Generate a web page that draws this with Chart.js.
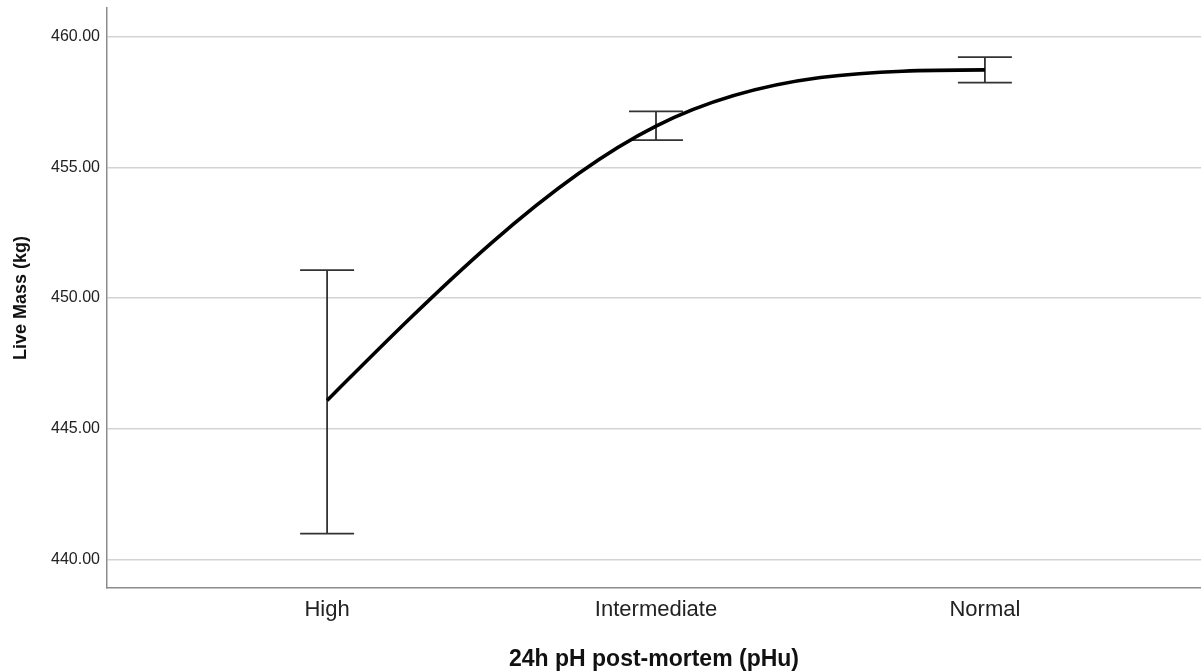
<!DOCTYPE html>
<html>
<head>
<meta charset="utf-8">
<title>Live Mass by 24h pH post-mortem</title>
<script src="https://cdn.jsdelivr.net/npm/chart.js@4.4.1/dist/chart.umd.min.js"></script>
<style>
  html, body { margin: 0; padding: 0; background: #ffffff; }
  #wrap { width: 1201px; height: 671px; position: relative; }
</style>
</head>
<body>
<div id="wrap"><canvas id="chart"></canvas></div>
<script>
// pHu groups and the Live Mass summary for each group (kg)
const categories = ['High', 'Intermediate', 'Normal'];
const meanMass   = [446.08, 456.58, 458.73];
const lowerMass  = [440.98, 456.04, 458.24];
const upperMass  = [451.07, 457.14, 459.22];
const yTicks     = [440, 445, 450, 455, 460];

const FONT = "'Liberation Sans', Arial, Helvetica, sans-serif";

// Natural cubic spline through the line's points (zero curvature at both ends)
const naturalSpline = {
  id: 'naturalSpline',
  beforeDatasetDraw(chart, args) {
    const meta = args.meta;
    const line = meta.dataset;
    if (!line || meta.type !== 'line') return;
    line.updateControlPoints(chart.chartArea, 'x');
    const pts = line.points;
    const n = pts.length;
    if (n < 3) return;
    const h = [], d = [];
    for (let i = 0; i < n - 1; i++) {
      h[i] = pts[i + 1].x - pts[i].x;
      d[i] = (pts[i + 1].y - pts[i].y) / h[i];
    }
    // tridiagonal system for second derivatives M[1..n-2]
    const M = new Array(n).fill(0);
    const a = [], b = [], c = [], r = [];
    for (let i = 1; i < n - 1; i++) {
      a.push(h[i - 1]);
      b.push(2 * (h[i - 1] + h[i]));
      c.push(h[i]);
      r.push(6 * (d[i] - d[i - 1]));
    }
    const m = b.length;
    for (let i = 1; i < m; i++) {
      const w = a[i] / b[i - 1];
      b[i] -= w * c[i - 1];
      r[i] -= w * r[i - 1];
    }
    const sol = new Array(m);
    sol[m - 1] = r[m - 1] / b[m - 1];
    for (let i = m - 2; i >= 0; i--) sol[i] = (r[i] - c[i] * sol[i + 1]) / b[i];
    for (let i = 0; i < m; i++) M[i + 1] = sol[i];
    // slopes at each knot
    const slope = [];
    for (let i = 0; i < n - 1; i++) slope[i] = d[i] - h[i] * (2 * M[i] + M[i + 1]) / 6;
    slope[n - 1] = d[n - 2] + h[n - 2] * (M[n - 2] + 2 * M[n - 1]) / 6;
    for (let i = 0; i < n; i++) {
      const p = pts[i];
      if (i > 0) {
        const hh = h[i - 1] / 3;
        p.cp1x = p.x - hh; p.cp1y = p.y - slope[i] * hh;
      } else { p.cp1x = p.x; p.cp1y = p.y; }
      if (i < n - 1) {
        const hh = h[i] / 3;
        p.cp2x = p.x + hh; p.cp2y = p.y + slope[i] * hh;
      } else { p.cp2x = p.x; p.cp2y = p.y; }
    }
    delete line._path;
  }
};

// Error bars with caps, drawn beneath the line
const errorBars = {
  id: 'errorBars',
  beforeDatasetsDraw(chart) {
    const { ctx, scales: { x, y } } = chart;
    ctx.save();
    ctx.strokeStyle = '#333333';
    ctx.lineWidth = 1.8;
    const cap = 27;
    for (let i = 0; i < categories.length; i++) {
      const px = x.getPixelForValue(i + 1);
      const yl = y.getPixelForValue(lowerMass[i]);
      const yu = y.getPixelForValue(upperMass[i]);
      ctx.beginPath();
      ctx.moveTo(px, yl); ctx.lineTo(px, yu);
      ctx.moveTo(px - cap, yl); ctx.lineTo(px + cap, yl);
      ctx.moveTo(px - cap, yu); ctx.lineTo(px + cap, yu);
      ctx.stroke();
    }
    ctx.restore();
  }
};

new Chart(document.getElementById('chart'), {
  type: 'line',
  data: {
    datasets: [{
      label: 'Live Mass (kg)',
      data: meanMass.map((v, i) => ({ x: i + 1, y: v })),
      borderColor: '#000000',
      borderWidth: 3.6,
      pointRadius: 0,
      pointHoverRadius: 0,
      tension: 0.4,
      fill: false
    }]
  },
  options: {
    responsive: true,
    maintainAspectRatio: false,
    animation: false,
    layout: { padding: { top: 8, left: 0, right: 0, bottom: 0 } },
    plugins: {
      legend: { display: false },
      tooltip: { enabled: false }
    },
    scales: {
      x: {
        type: 'linear',
        min: 0.3308,
        max: 3.657,
        afterBuildTicks(scale) { scale.ticks = categories.map((c, i) => ({ value: i + 1 })); },
        afterFit(scale) {
          scale.height = 83;
          scale.paddingLeft = 0;
          scale.paddingRight = 0;
        },
        ticks: {
          autoSkip: false,
          maxRotation: 0,
          padding: 9,
          color: '#222222',
          font: { family: FONT, size: 22 },
          callback: (v) => categories[v - 1] ?? ''
        },
        grid: { display: false, drawTicks: false },
        border: { display: true, color: '#8c8c8c', width: 1.5 },
        title: {
          display: true,
          text: '24h pH post-mortem (pHu)',
          color: '#111111',
          font: { family: FONT, size: 23, weight: 'bold', lineHeight: 1 },
          padding: { top: 0, bottom: 0 }
        }
      },
      y: {
        min: 438.9,
        max: 461.1,
        afterBuildTicks(scale) { scale.ticks = yTicks.map(v => ({ value: v })); },
        afterFit(scale) {
          scale.width = 107;
          scale.paddingTop = 0;
          scale.paddingBottom = 0;
        },
        ticks: {
          padding: 7,
          color: '#222222',
          font: { family: FONT, size: 16 },
          callback: (v) => Number(v).toFixed(2)
        },
        grid: { color: '#d3d3d3', lineWidth: 1.5, drawTicks: false },
        border: { display: true, color: '#8c8c8c', width: 1.5 },
        title: {
          display: true,
          text: 'Live Mass (kg)',
          color: '#111111',
          font: { family: FONT, size: 18, weight: 'bold' },
          padding: { top: 10, bottom: 0 }
        }
      }
    }
  },
  plugins: [errorBars, naturalSpline]
});
</script>
</body>
</html>
